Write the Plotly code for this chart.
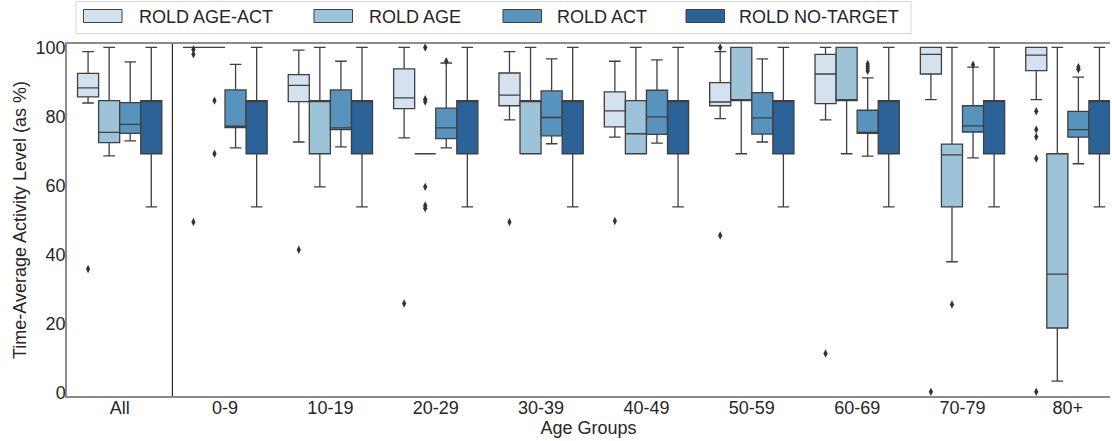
import plotly.graph_objects as go

categories = ["All", "0-9", "10-19", "20-29", "30-39", "40-49", "50-59", "60-69", "70-79", "80+"]
series_names = ["ROLD AGE-ACT", "ROLD AGE", "ROLD ACT", "ROLD NO-TARGET"]

# AGE-ACT
ageact_q1 = [85.7, 100, 84.3, 82.3, 83.1, 77.0, 83.1, 83.7, 92.3, 93.3]
ageact_med = [88.3, 100, 89.0, 85.4, 86.2, 81.6, 84.2, 92.3, 98.0, 97.8]
ageact_q3 = [92.5, 100, 92.1, 93.8, 92.6, 87.1, 89.8, 98.0, 100, 100]
ageact_lo = [83.9, 100, 72.6, 73.8, 79.0, 74.0, 79.4, 79.0, 84.9, 84.9]
ageact_hi = [98.8, 100, 99.2, 100, 98.8, 96.0, 98.8, 100, 100, 100]
ageact_out = [[35.8], [99.4, 98.0, 49.4], [41.4], [25.8], [49.4], [49.7], [100, 45.5], [11.3], [0.2],
              [81.5, 76.2, 74.1, 67.8, 0.2]]

# AGE
age_q1 = [72.4, 100, 69.2, 69.2, 69.2, 69.2, 84.6, 84.6, 53.8, 18.7]
age_med = [75.4, 100, 84.6, 69.2, 84.6, 75.0, 84.6, 84.6, 68.9, 34.3]
age_q3 = [84.6, 100, 84.6, 69.2, 84.6, 84.6, 100, 100, 72.0, 69.2]
age_lo = [68.6, 100, 59.6, 69.2, 69.2, 69.2, 69.2, 69.2, 37.9, 3.3]
age_hi = [100, 100, 100, 69.2, 100, 100, 100, 100, 100, 100]
age_out = [[], [84.6, 69.2], [], [100, 85.0, 84.3, 59.6, 54.2, 53.4], [], [], [], [], [25.5], []]

# ACT
act_q1 = [75.1, 76.8, 76.2, 73.6, 74.4, 74.8, 74.9, 75.1, 75.5, 74.0]
act_med = [77.7, 77.2, 76.7, 76.7, 79.7, 79.9, 79.6, 75.1, 77.3, 76.2]
act_q3 = [84.0, 87.7, 87.7, 82.4, 87.4, 87.6, 86.9, 81.8, 83.1, 81.5]
act_lo = [72.9, 70.9, 71.2, 70.9, 72.1, 72.3, 72.6, 68.5, 68.0, 66.3]
act_hi = [95.8, 95.1, 96.0, 95.5, 96.7, 96.4, 96.7, 91.2, 94.3, 91.4]
act_out = [[], [], [], [96.0], [], [], [], [95.2, 94.5, 93.8, 93.2], [95.0], [94.3, 93.7]]

# NO-TARGET
nt_q1 = [69.2] * 10
nt_med = [84.6] * 10
nt_q3 = [84.6] * 10
nt_lo = [53.8] * 10
nt_hi = [100] * 10
nt_out = [[] for _ in range(10)]

all_series = [
    (ageact_q1, ageact_med, ageact_q3, ageact_lo, ageact_hi, ageact_out),
    (age_q1, age_med, age_q3, age_lo, age_hi, age_out),
    (act_q1, act_med, act_q3, act_lo, act_hi, act_out),
    (nt_q1, nt_med, nt_q3, nt_lo, nt_hi, nt_out),
]
colors = ["#d4e2f0", "#9dc3d8", "#5893bd", "#2b6399"]
line_col = "#3f3f3f"
font_family = "Liberation Sans, Arial, sans-serif"
text_col = "#262626"

W, H = 1112, 441
ML, MR, MT, MB = 67, 2, 44, 45
PW, PH = W - ML - MR, H - MT - MB


def px2paper_x(px):
    return (px - ML) / PW


def px2paper_y(py):
    return (H - MB - py) / PH


fig = go.Figure()
n_s = len(series_names)
bw = 0.8 / n_s
for j, (name, col, s) in enumerate(zip(series_names, colors, all_series)):
    q1, med, q3, lo, hi, outs = s
    off = (j - (n_s - 1) / 2) * bw
    xs = [i + off for i in range(len(categories))]
    fig.add_trace(go.Box(
        x=xs, q1=q1, median=med, q3=q3, lowerfence=lo, upperfence=hi,
        name=name, width=bw, fillcolor=col, showlegend=False,
        line=dict(color=line_col, width=1.3), whiskerwidth=0.55,
        boxpoints=False, hoverinfo="skip",
    ))
    ox, oy = [], []
    for i, lst in enumerate(outs):
        for v in lst:
            ox.append(i + off)
            oy.append(v)
    if ox:
        fig.add_trace(go.Scatter(
            x=ox, y=oy, mode="markers", showlegend=False,
            marker=dict(symbol="diamond-tall", size=6, color="#333333"),
            hoverinfo="skip",
        ))

# separator between "All" and the age groups
fig.add_shape(type="line", xref="x", yref="y domain", x0=0.5, x1=0.5, y0=0, y1=1,
              line=dict(color="black", width=1))

# manual legend (wide rectangular swatches like the reference)
fig.add_shape(type="rect", xref="paper", yref="paper",
              x0=px2paper_x(76), x1=px2paper_x(911),
              y0=px2paper_y(33.5), y1=px2paper_y(1.5),
              line=dict(color="#d6d6d6", width=1), fillcolor="white", layer="above")
icon_x = [83.5, 314, 503, 686]
text_x = [137, 367, 555, 737]
for name, col, ix, tx in zip(series_names, colors, icon_x, text_x):
    fig.add_shape(type="rect", xref="paper", yref="paper",
                  x0=px2paper_x(ix), x1=px2paper_x(ix + 38.5),
                  y0=px2paper_y(22.5), y1=px2paper_y(9.5),
                  line=dict(color=line_col, width=1), fillcolor=col, layer="above")
    fig.add_annotation(text=name, xref="paper", yref="paper",
                       x=px2paper_x(tx), y=px2paper_y(16.5), xanchor="left", yanchor="middle",
                       showarrow=False, font=dict(size=18, color=text_col))

fig.update_layout(
    width=W, height=H,
    margin=dict(l=ML, r=MR, t=MT, b=MB, autoexpand=False),
    paper_bgcolor="white", plot_bgcolor="white",
    boxmode="overlay",
    showlegend=False,
    font=dict(family=font_family, size=18, color=text_col),
    xaxis=dict(
        range=[-0.5, 9.4], tickvals=list(range(len(categories))), ticktext=categories,
        showline=True, linecolor="#8c8c8c", linewidth=1.5, mirror=True,
        showgrid=False, zeroline=False, ticks="", ticklabelstandoff=-5,
        tickfont=dict(size=18),
        title=dict(text="Age Groups", standoff=0, font=dict(size=18)),
    ),
    yaxis=dict(
        range=[-1, 101], tickvals=[0, 20, 40, 60, 80, 100],
        showline=True, linecolor="#8c8c8c", linewidth=1.5,
        showgrid=False, zeroline=False, ticks="", ticklabelstandoff=-4,
        tickfont=dict(size=18),
        title=dict(text="Time-Average Activity Level (as %)", standoff=4, font=dict(size=18)),
    ),
)

fig.write_html("out.html",
               config={"displayModeBar": False},
               post_script="document.body.style.margin='0';document.body.style.overflow='hidden';")
